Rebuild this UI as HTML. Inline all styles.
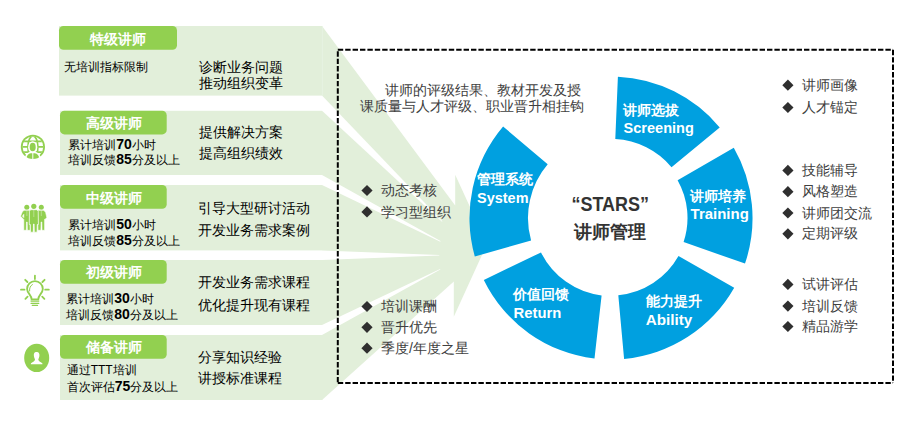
<!DOCTYPE html>
<html><head><meta charset="utf-8">
<style>
html,body{margin:0;padding:0;background:#fff;}
body{width:924px;height:432px;position:relative;overflow:hidden;font-family:"Liberation Sans",sans-serif;}
svg.bg{position:absolute;left:0;top:0;}
svg text{font-family:"Liberation Sans",sans-serif;}
.tab{fill:#fff;font-weight:bold;font-size:14px;}
.lt{font-size:12px;fill:#000;}
.num{font-size:14px;font-weight:bold;}
.rt{font-size:14px;fill:#000;}
.gt{font-size:14px;fill:#404040;}
.wl{fill:#fff;font-weight:bold;font-size:14px;}
.we{fill:#fff;font-weight:bold;font-size:15px;}
.c1{fill:#333;font-weight:bold;font-size:19.5px;}
.c2{fill:#333;font-weight:bold;font-size:18px;}
</style></head><body>
<svg class="bg" width="924" height="432" viewBox="0 0 924 432">
  <!-- light green bands -->
  <g fill="#E2EFDA">
    <rect x="59" y="26" width="263.3" height="69.6"/>
    <rect x="60" y="110.8" width="262.3" height="64.2"/>
    <rect x="60" y="185" width="262.3" height="65.4"/>
    <rect x="60" y="260" width="262.3" height="65"/>
    <rect x="60" y="335" width="262.3" height="65"/>
    <polygon points="322,26 455.2,205.5 455.2,174.7 487,244 453.8,316.7 453.8,281.6 322,400"/>
  </g>
  <line x1="322.3" y1="26.5" x2="322.3" y2="95.3" stroke="#EAF4E5" stroke-width="0.8"/>
  <g fill="#fff">
    <polygon points="322,95.6 322,110.8 442,221.8 442.4,221.3"/>
    <polygon points="322,175 322,185 440.3,241.8 440.5,241.1"/>
    <polygon points="322,250.4 322,260 439.3,255.6 439.3,254.9"/>
    <polygon points="322,325 322,335 440.3,269.6 440.1,268.9"/>
  </g>
  <!-- tabs -->
  <g fill="#92D050">
    <rect x="59" y="26" width="118" height="23.8" rx="4.5"/>
    <rect x="60" y="110.8" width="106.7" height="23.6" rx="4.5"/>
    <rect x="60" y="185" width="106.7" height="23.7" rx="4.5"/>
    <rect x="60" y="260" width="106.7" height="23.7" rx="4.5"/>
    <rect x="60" y="335" width="106.7" height="23.7" rx="4.5"/>
  </g>
  <!-- icons -->
  <g id="icon-globe">
    <defs><clipPath id="gc"><circle cx="32.9" cy="146.9" r="10.5"/></clipPath><clipPath id="gc2"><circle cx="32.9" cy="146.9" r="12"/></clipPath></defs>
    <circle cx="32.9" cy="146.9" r="12.1" fill="#92D050"/>
    <circle cx="32.9" cy="146.9" r="10.3" fill="#fff"/>
    <g clip-path="url(#gc)" stroke="#92D050" stroke-width="1.7" fill="none">
      <line x1="20" y1="141.3" x2="46" y2="141.3"/>
      <line x1="20" y1="146.8" x2="46" y2="146.8"/>
      <line x1="20" y1="152.2" x2="46" y2="152.2"/>
      <ellipse cx="32.9" cy="146.9" rx="5" ry="11"/>
    </g>
    <ellipse cx="32.7" cy="147.2" rx="4.6" ry="5.9" fill="#fff"/>
    <path d="M24.5,160 C25,154.5 27.5,152.2 30.5,151.8 L35,151.8 C38,152.2 40.5,154.5 41.3,160 Z" fill="#fff"/>
    <ellipse cx="32.7" cy="147" rx="3" ry="4.3" fill="#92D050"/>
    <g clip-path="url(#gc2)" fill="#92D050">
      <path d="M26,160 C26.3,155.8 28,153.7 30.8,153.2 L32.3,153.2 L32.3,160 Z"/>
      <path d="M39.6,160 C39.3,155.8 37.6,153.7 34.8,153.2 L33.3,153.2 L33.3,160 Z"/>
    </g>
  </g>
  <g id="icon-team" fill="#92D050">
    <circle cx="26.8" cy="207.2" r="2.5"/>
    <circle cx="33.8" cy="206.3" r="2.6"/>
    <circle cx="41.3" cy="207.2" r="2.5"/>
    <path stroke="#fff" stroke-width="0.6" d="M24,210.3 L29.6,210.3 L30.2,212 L30.2,230.3 L27.4,230.3 L27.2,222 L26.5,222 L26.3,230.3 L23.8,230.3 L23.8,219.5 L20.6,216.2 L22.2,212 Z M23.8,214.3 L22.4,216.2 L23.8,217.6 Z"/>
    <path stroke="#fff" stroke-width="0.6" d="M37.9,210.3 L43.7,210.3 L45.6,212.3 L46.8,217.5 L45.2,219.3 L44.6,219.3 L44.6,230.3 L42,230.3 L41.8,222 L41.1,222 L40.9,230.3 L38,230.3 L37.6,212 Z"/>
    <path stroke="#fff" stroke-width="0.7" d="M30.6,209.7 L37,209.7 L38.2,211.3 L38.4,224.5 L37.3,224.5 L37.1,232.2 L34.3,232.2 L34.1,224 L33.5,224 L33.3,232.2 L30.5,232.2 L30.3,224.5 L29.3,224.5 L29.4,211.3 Z"/>
  </g>
  <g stroke="#fff" stroke-width="0.5" fill="none" opacity="0.7">
    <path d="M26.9,210.6 L26.9,216"/>
    <path d="M33.8,210 L33.8,217"/>
    <path d="M41.3,210.6 L41.3,216"/>
  </g>
  <g id="icon-bulb" fill="none" stroke="#92D050" stroke-width="1.8" stroke-linecap="round">
    <path d="M31.6,299.3 C31.6,295 27.1,293.3 27.1,289 A7.85,7.85 0 0 1 42.8,289 C42.8,293.3 38.3,295 38.3,299.3 Z"/>
    <path d="M29.6,291 C29.3,288 30.3,285.8 32.4,284.6" stroke-width="1"/>
    <line x1="34.9" y1="275.6" x2="34.9" y2="279.1"/>
    <line x1="21" y1="289.7" x2="24.5" y2="289.7"/>
    <line x1="45.2" y1="289.7" x2="48.8" y2="289.7"/>
    <line x1="25.2" y1="279.8" x2="27.4" y2="282"/>
    <line x1="44.6" y1="279.8" x2="42.4" y2="282"/>
    <line x1="25.4" y1="298.8" x2="27.6" y2="296.6"/>
    <line x1="44.4" y1="298.8" x2="42.2" y2="296.6"/>
    <line x1="31" y1="301.1" x2="38.8" y2="301.1" stroke-width="1.25"/>
    <line x1="31" y1="303.3" x2="38.8" y2="303.3" stroke-width="1.25"/>
    <line x1="32.3" y1="305.4" x2="37.5" y2="305.4" stroke-width="1.25"/>
  </g>
  <g id="icon-person">
    <ellipse cx="36.7" cy="357.9" rx="12.5" ry="14.2" fill="#92D050"/>
    <path fill="#fff" d="M36.2,352 C34.2,352 33.6,353.8 33.9,356 C34.1,357.5 34.7,358.5 35,359.5 C35,361 33,362 31,363.2 L30.8,364.3 L42.5,364.3 L42.3,363.2 C40.3,362 38.3,361 38.3,359.5 C38.6,358.5 39.2,357.5 39.4,356 C39.7,353.8 38.9,352 36.9,352 Z"/>
  </g>
  <!-- dashed box -->
  <g stroke="#000" stroke-width="2" stroke-dasharray="5.4 2" fill="none">
    <line x1="337.8" y1="49.8" x2="893" y2="49.8"/>
    <line x1="337.8" y1="51.3" x2="337.8" y2="383"/>
    <line x1="893" y1="49.8" x2="893" y2="383"/>
    <line x1="337.8" y1="383" x2="893" y2="383"/>
  </g>
  <!-- ring -->
  <g fill="#00A0E0">
    <path d="M615.3,139.1 L617.9,76.7 A141.5,141.5 0 0 1 719.7,127.4 L671.5,167.2 A79,79 0 0 0 615.3,139.1 Z"/>
    <path d="M677.6,180.3 L733.8,147.7 A141.5,141.5 0 0 1 745.0,263.6 L683.6,242.1 A76.5,76.5 0 0 0 677.6,180.3 Z"/>
    <path d="M678.5,256.0 L734.2,287.7 A141.5,141.5 0 0 1 624.1,358.9 L618.3,295.2 A77.5,77.5 0 0 0 678.5,256.0 Z"/>
    <path d="M601.6,295.4 L594.5,358.5 A141.5,141.5 0 0 1 483.8,280.0 L541.0,252.4 A78,78 0 0 0 601.6,295.4 Z"/>
    <path d="M531.1,240.6 L474.8,256.5 A141.5,141.5 0 0 1 503.1,126.5 L547.7,164.3 A83,83 0 0 0 531.1,240.6 Z"/>
  </g>
  <!-- diamonds -->
  <g fill="#2f2f2f">
    <path d="M787.9,79.6 l5.6,5.6 l-5.6,5.6 l-5.6,-5.6 Z"/>
    <path d="M787.9,101.9 l5.6,5.6 l-5.6,5.6 l-5.6,-5.6 Z"/>
    <path d="M787.9,164.8 l5.6,5.6 l-5.6,5.6 l-5.6,-5.6 Z"/>
    <path d="M787.9,186.1 l5.6,5.6 l-5.6,5.6 l-5.6,-5.6 Z"/>
    <path d="M787.9,207.4 l5.6,5.6 l-5.6,5.6 l-5.6,-5.6 Z"/>
    <path d="M787.9,228.2 l5.6,5.6 l-5.6,5.6 l-5.6,-5.6 Z"/>
    <path d="M787.9,278.8 l5.6,5.6 l-5.6,5.6 l-5.6,-5.6 Z"/>
    <path d="M787.9,300.5 l5.6,5.6 l-5.6,5.6 l-5.6,-5.6 Z"/>
    <path d="M787.9,320.9 l5.6,5.6 l-5.6,5.6 l-5.6,-5.6 Z"/>
    <path d="M367.0,184.9 l5.6,5.6 l-5.6,5.6 l-5.6,-5.6 Z"/>
    <path d="M367.0,206.3 l5.6,5.6 l-5.6,5.6 l-5.6,-5.6 Z"/>
    <path d="M367.0,300.9 l5.6,5.6 l-5.6,5.6 l-5.6,-5.6 Z"/>
    <path d="M367.0,321.7 l5.6,5.6 l-5.6,5.6 l-5.6,-5.6 Z"/>
    <path d="M367.0,342.6 l5.6,5.6 l-5.6,5.6 l-5.6,-5.6 Z"/>
  </g>
  <!-- texts -->
  <text x="118" y="44.2" class="tab" text-anchor="middle">特级讲师</text>
  <text x="113.5" y="127.9" class="tab" text-anchor="middle">高级讲师</text>
  <text x="113.5" y="202.9" class="tab" text-anchor="middle">中级讲师</text>
  <text x="113.5" y="277.4" class="tab" text-anchor="middle">初级讲师</text>
  <text x="113.5" y="352.4" class="tab" text-anchor="middle">储备讲师</text>
  <text x="63.6" y="71.3" class="lt">无培训指标限制</text>
  <text x="68.3" y="148.8" class="lt">累计培训<tspan class="num">70</tspan>小时</text>
  <text x="68.3" y="164.4" class="lt">培训反馈<tspan class="num">85</tspan>分及以上</text>
  <text x="68.3" y="229.0" class="lt">累计培训<tspan class="num">50</tspan>小时</text>
  <text x="68.3" y="244.6" class="lt">培训反馈<tspan class="num">85</tspan>分及以上</text>
  <text x="66.3" y="303.0" class="lt">累计培训<tspan class="num">30</tspan>小时</text>
  <text x="66.3" y="318.6" class="lt">培训反馈<tspan class="num">80</tspan>分及以上</text>
  <text x="66.7" y="373.8" class="lt">通过TTT培训</text>
  <text x="66.7" y="390.5" class="lt">首次评估<tspan class="num">75</tspan>分及以上</text>
  <text x="199.2" y="71.6" class="rt">诊断业务问题</text>
  <text x="199.2" y="88.2" class="rt">推动组织变革</text>
  <text x="199" y="136.5" class="rt">提供解决方案</text>
  <text x="199" y="158.3" class="rt">提高组织绩效</text>
  <text x="197.8" y="212.6" class="rt">引导大型研讨活动</text>
  <text x="197.8" y="234.8" class="rt">开发业务需求案例</text>
  <text x="197.5" y="287.3" class="rt">开发业务需求课程</text>
  <text x="197.5" y="309.8" class="rt">优化提升现有课程</text>
  <text x="197.8" y="362.3" class="rt">分享知识经验</text>
  <text x="197.8" y="383.3" class="rt">讲授标准课程</text>
  <text x="802" y="90.0" class="gt">讲师画像</text>
  <text x="802" y="112.3" class="gt">人才锚定</text>
  <text x="802" y="175.0" class="gt">技能辅导</text>
  <text x="802" y="196.3" class="gt">风格塑造</text>
  <text x="802" y="217.6" class="gt">讲师团交流</text>
  <text x="802" y="238.4" class="gt">定期评级</text>
  <text x="802" y="289.0" class="gt">试讲评估</text>
  <text x="802" y="310.7" class="gt">培训反馈</text>
  <text x="802" y="331.1" class="gt">精品游学</text>
  <text x="381" y="195.1" class="gt">动态考核</text>
  <text x="381" y="216.5" class="gt">学习型组织</text>
  <text x="381" y="311.1" class="gt">培训课酬</text>
  <text x="381" y="331.9" class="gt">晋升优先</text>
  <text x="381" y="352.8" class="gt">季度/年度之星</text>
  <text x="384.9" y="95.4" class="gt">讲师的评级结果、教材开发及授</text>
  <text x="360.2" y="111.0" class="gt">课质量与人才评级、职业晋升相挂钩</text>
  <text x="623.3" y="114.6" class="wl">讲师选拔</text>
  <text x="689.8" y="201.1" class="wl">讲师培养</text>
  <text x="645.6" y="305.8" class="wl">能力提升</text>
  <text x="513.3" y="299.1" class="wl">价值回馈</text>
  <text x="477.2" y="184.1" class="wl">管理系统</text>
  <text x="623.6" y="133.4" class="we" textLength="70.2" lengthAdjust="spacingAndGlyphs">Screening</text>
  <text x="690.6" y="219.4" class="we" textLength="58.2" lengthAdjust="spacingAndGlyphs">Training</text>
  <text x="645.8" y="324.6" class="we" textLength="46.5" lengthAdjust="spacingAndGlyphs">Ability</text>
  <text x="513.5" y="317.6" class="we" textLength="47.8" lengthAdjust="spacingAndGlyphs">Return</text>
  <text x="477.1" y="202.6" class="we" textLength="51.4" lengthAdjust="spacingAndGlyphs">System</text>
  <text x="571.5" y="210.8" class="c1" textLength="77.5" lengthAdjust="spacingAndGlyphs">“STARS”</text>
  <text x="609.9" y="238.1" class="c2" text-anchor="middle">讲师管理</text>
</svg>

</body></html>
